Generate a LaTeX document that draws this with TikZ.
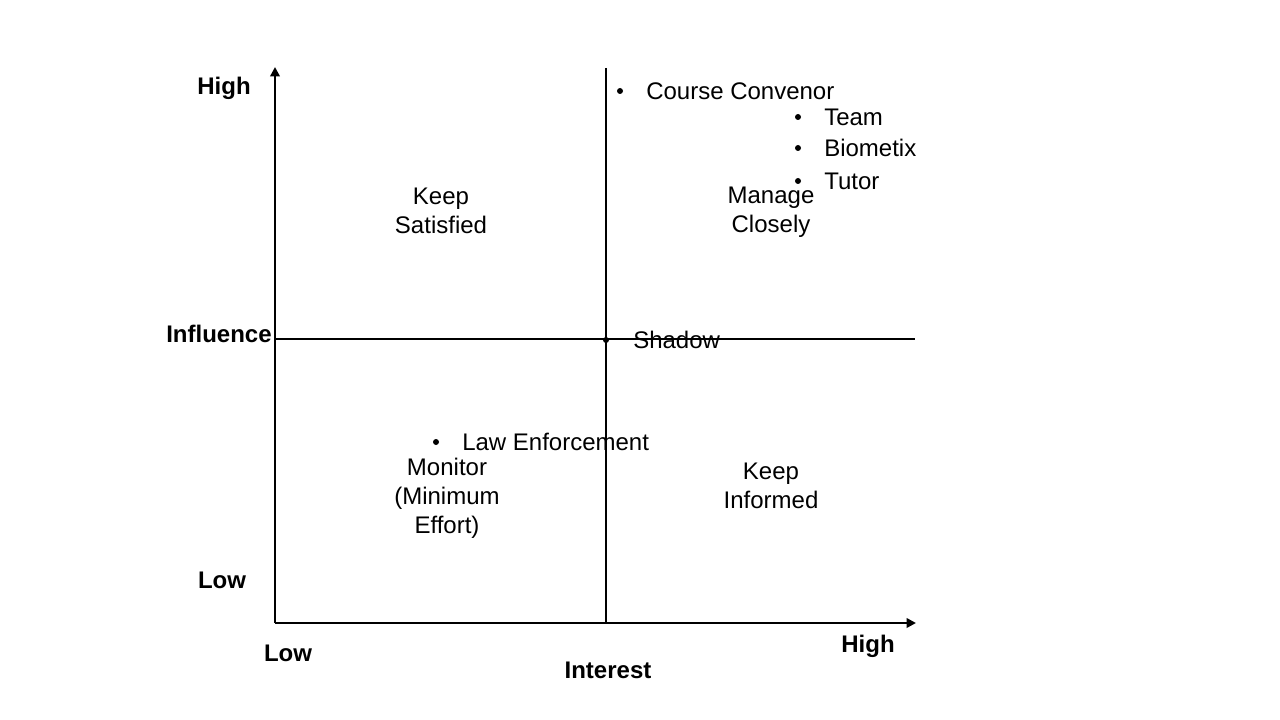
\documentclass[tikz,border=0pt]{standalone}
\usepackage{fontspec}
\setmainfont{Liberation Sans}
\usetikzlibrary{arrows.meta}
\begin{document}
\begin{tikzpicture}[x=0.75pt,y=-0.75pt,
  axis/.style={line width=2.2pt,-{Triangle[width=7pt,length=7pt]}},
  divider/.style={line width=1.2pt},
  lbl/.style={font=\fontsize{18}{21.75}\selectfont\bfseries,inner sep=0pt},
  txt/.style={font=\fontsize{18}{21.75}\selectfont,inner sep=0pt,align=center},
  item/.style={font=\fontsize{18}{21.75}\selectfont,inner sep=0pt,anchor=base west},
  dot/.style={fill=black,circle,inner sep=0pt,minimum size=4.5pt}]
\useasboundingbox (0,0) rectangle (1280,720);
\coordinate (O) at (275,623);
\coordinate (ytop) at (275,67);
\coordinate (xend) at (916,623);
\coordinate (vtop) at (606,68);
\coordinate (vbot) at (606,623);
\coordinate (hl) at (275,339);
\coordinate (hr) at (915,339);
\draw[divider] (vtop) -- (vbot);
\draw[divider] (hl) -- (hr);
\draw[axis] (O) -- (ytop);
\draw[axis] (O) -- (xend);
% axis labels
\node[lbl] (hiY) at (224,88) {High};
\node[lbl] (infl) at (219,334) {Influence};
\node[lbl] (loY) at (222,580) {Low};
\node[lbl] (loX) at (288,653) {Low};
\node[lbl] (hiX) at (868,646) {High};
\node[lbl] (intr) at (608,670) {Interest};
% quadrant labels
\node[txt] (ks) at (441,211) {Keep\\Satisfied};
\node[txt] (mc) at (771,212.5) {Manage\\Closely};
\node[txt] (mon) at (447,498.5) {Monitor\\(Minimum\\Effort)};
\node[txt] (ki) at (771,485.5) {Keep\\Informed};
% stakeholders
\node[dot] (d1) at (620,91) {};
\node[item] (cc) at (646,99.5) {Course Convenor};
\node[dot] (d2) at (798,117) {};
\node[item] (team) at (824,125.5) {Team};
\node[dot] (d3) at (798,148) {};
\node[item] (bio) at (824,156.5) {Biometix};
\node[dot] (d4) at (798,181) {};
\node[item] (tut) at (824,189.5) {Tutor};
\node[dot] (d5) at (606,340) {};
\node[item] (sh) at (633,348.5) {Shadow};
\node[dot] (d6) at (436,442) {};
\node[item] (law) at (462,450.5) {Law Enforcement};
\end{tikzpicture}
\end{document}
